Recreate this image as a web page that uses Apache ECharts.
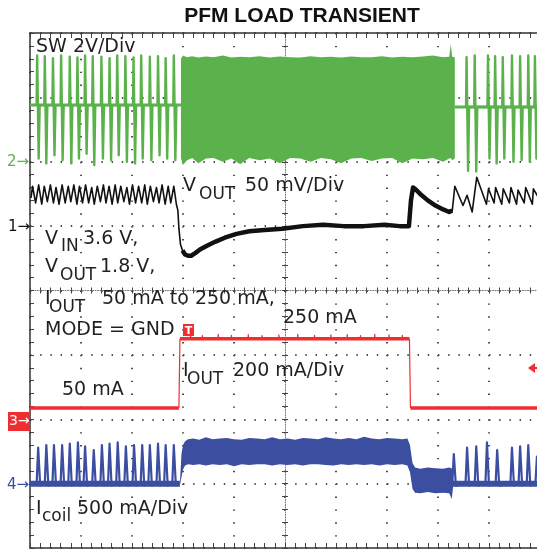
<!DOCTYPE html>
<html>
<head>
<meta charset="utf-8">
<script src="https://cdn.jsdelivr.net/npm/echarts@6/dist/echarts.min.js"></script>
<style>
  html, body { margin: 0; padding: 0; background: #fff; }
  #chart { width: 537px; height: 550px; }
</style>
</head>
<body>
<div id="chart"></div>
<script>
// scope screen: time in divisions (-5..5), each channel in its own unit
// channel reference level (div) and scale (unit per div)
const swRef = 2, swScale = 2;          // SW, V/div
const voutRef = 1, voutScale = 50;     // VOUT ripple, mV/div
const ioutRef = -2, ioutScale = 200;   // IOUT, mA/div
const icoilRef = -3, icoilScale = 500; // Icoil, mA/div

// ---- SW (V) ----
const swBaseLeft = 1.76;
const swBaseRight = 1.70;
const swPulseLeftT = [-4.86, -4.71, -4.55, -4.39, -4.22, -4.07, -3.92, -3.77, -3.60, -3.44, -3.29, -3.13, -2.97, -2.82, -2.65, -2.49, -2.34, -2.18];
const swPulseLeftHi = [3.30, 3.28, 3.22, 3.30, 3.26, 3.24, 3.30, 3.28, 3.26, 3.22, 3.30, 3.28, 3.24, 3.30, 3.26, 3.28, 3.22, 3.30];
const swPulseLeftLo = [0.10, -0.05, 0.20, 0.05, -0.05, 0.10, 0.25, -0.10, 0.10, 0.05, 0.20, 0.00, -0.05, 0.10, 0.05, 0.20, 0.10, 0.05];
const swBlockT = [-2.04, -2.00, -1.92, -1.82, -1.70, -1.55, -1.40, -1.22, -1.05, -0.88, -0.70, -0.50, -0.30, -0.10, 0.10, 0.30, 0.50, 0.70, 0.90, 1.10, 1.30, 1.50, 1.70, 1.90, 2.10, 2.30, 2.50, 2.70, 2.90, 3.10, 3.22, 3.25, 3.28, 3.33];
const swBlockHi = [3.20, 3.30, 3.25, 3.28, 3.24, 3.27, 3.25, 3.30, 3.24, 3.26, 3.25, 3.28, 3.24, 3.27, 3.25, 3.24, 3.28, 3.25, 3.26, 3.24, 3.27, 3.25, 3.25, 3.28, 3.24, 3.26, 3.25, 3.27, 3.30, 3.25, 3.26, 3.65, 3.26, 3.25];
const swBlockLo = [0.10, -0.10, 0.05, 0.12, -0.05, 0.10, 0.12, 0.00, 0.10, -0.08, 0.12, 0.05, 0.10, -0.05, 0.12, 0.10, 0.00, 0.12, 0.08, -0.05, 0.10, 0.12, 0.02, 0.10, 0.12, -0.05, 0.10, 0.08, 0.12, 0.00, 0.10, 0.12, 0.05, 0.10];
const swPulseRightT = [3.56, 3.72, 3.98, 4.12, 4.27, 4.45, 4.61, 4.77, 4.90];
const swPulseRightHi = [3.25, 3.30, 3.30, 3.28, 3.25, 3.30, 3.28, 3.30, 3.28];
const swPulseRightLo = [-0.28, -0.30, 0.10, -0.05, 0.10, 0.00, 0.05, 0.00, 0.10];

// ---- VOUT (mV) ----
const voutT = [
  -4.98, -4.95, -4.89, -4.83, -4.77, -4.72, -4.66, -4.60, -4.54, -4.49, -4.43, -4.37, -4.31, -4.25, -4.20, -4.14, -4.08,
  -4.03, -3.97, -3.91, -3.85, -3.79, -3.74, -3.68, -3.62, -3.56, -3.51, -3.45, -3.39, -3.33, -3.28, -3.22, -3.16,
  -3.10, -3.05, -2.99, -2.93, -2.87, -2.81, -2.75, -2.70, -2.64, -2.58, -2.52, -2.47, -2.41, -2.35, -2.29, -2.24, -2.18, -2.13,
  -2.10, -2.08, -2.05, -2.01,
  -1.96, -1.90, -1.84, -1.76, -1.66, -1.52, -1.36, -1.18, -0.95, -0.70, -0.40, -0.05,
  0.35, 0.75, 1.15, 1.55, 1.95, 2.25, 2.43,
  2.47, 2.51, 2.55, 2.65, 2.80, 2.95, 3.10, 3.22, 3.28,
  3.33, 3.49, 3.57, 3.67, 3.76, 3.95, 3.99, 4.10, 4.13, 4.25, 4.28, 4.40, 4.43, 4.54, 4.57, 4.69, 4.72, 4.85, 4.87, 5.00
];
const voutV = [
  22, 31, 18, 32, 17, 31, 19, 32, 18, 30, 17, 32, 18, 31, 19, 32, 17,
  31, 18, 32, 18, 30, 17, 31, 19, 32, 18, 31, 17, 32, 18, 31, 19,
  30, 17, 32, 18, 31, 18, 32, 17, 31, 19, 30, 18, 32, 17, 31, 18, 31, 17,
  12, -2, -14, -19,
  -22, -23, -23, -21, -18, -15, -12, -9, -6, -4, -3, -2,
  0, 1, 0, 0, 1, 0, 0,
  20, 30, 29, 25, 20, 16, 13, 11, 12,
  31, 16, 24, 11, 38, 17, 29, 18, 30, 17, 29, 18, 30, 17, 28, 18, 30, 17, 29, 20
];

// ---- IOUT (mA) ----
const ioutT = [-5, -2.08, -2.06, 2.44, 2.46, 5];
const ioutV = [35, 35, 250, 250, 35, 35];
const ioutHighSpikeT = [-1.85, -1.62, -1.31, -1.05, -0.72, -0.45, -0.12, 0.25, 0.58, 0.90, 1.22, 1.48, 1.76, 2.04, 2.30];
const ioutHighSpikeV = [262, 260, 264, 261, 263, 260, 262, 264, 261, 262, 263, 260, 264, 262, 261];

// ---- Icoil (mA) ----
const icoilSpikeLeftT = [-4.84, -4.68, -4.53, -4.37, -4.22, -4.06, -3.92, -3.75, -3.59, -3.44, -3.28, -3.12, -2.96, -2.80, -2.65, -2.49, -2.34, -2.18];
const icoilSpikeLeftPk = [280, 300, 300, 300, 310, 320, 290, 260, 300, 310, 320, 290, 300, 300, 300, 310, 300, 300];
const icoilSpikeRightT = [3.31, 3.57, 3.75, 3.96, 4.16, 4.45, 4.61, 4.77, 4.94];
const icoilSpikeRightPk = [230, 280, 290, 320, 260, 280, 290, 300, 210];
const icoilBandT = [-2.06, -2.03, -2.00, -1.96, -1.90, -1.80, -1.68, -1.55, -1.42, -1.28, -1.14, -1.00, -0.85, -0.70, -0.55, -0.40, -0.25, -0.10, 0.05, 0.20, 0.35, 0.50, 0.65, 0.80, 0.95, 1.10, 1.25, 1.40, 1.55, 1.70, 1.85, 2.00, 2.15, 2.30, 2.40, 2.45, 2.50, 2.55, 2.65, 2.80, 2.95, 3.10, 3.22, 3.27, 3.30];
const icoilBandHi = [10, 230, 300, 330, 345, 350, 340, 360, 345, 350, 355, 345, 340, 355, 350, 345, 360, 345, 350, 340, 355, 350, 345, 360, 350, 345, 355, 345, 365, 350, 345, 355, 350, 345, 350, 300, 160, 125, 115, 125, 120, 115, 125, 120, 20];
const icoilBandLo = [-10, 50, 110, 140, 150, 145, 150, 140, 150, 145, 150, 135, 150, 145, 150, 150, 140, 150, 145, 150, 140, 150, 150, 145, 140, 150, 145, 150, 145, 150, 140, 150, 145, 150, 140, 90, -40, -70, -75, -65, -75, -70, -75, -120, -10];

// unit -> screen divisions
const sw = v => swRef + v / swScale;
const vo = v => voutRef + v / voutScale;
const io = v => ioutRef + v / ioutScale;
const ic = v => icoilRef + v / icoilScale;

const GREEN = '#5bb14b', BLACK = '#111111', RED = '#ee2e30', BLUE = '#3b4ea0', TXT = '#231f20';

function pulses(times, hi, lo, base, conv) {
  const pts = [];
  times.forEach((t, i) => {
    pts.push([t - 0.01, conv(base)], [t, conv(hi[i])], [t + 0.03, conv(lo[i])], [t + 0.05, conv(base)]);
  });
  return pts;
}
function spikes(times, pk, conv) {
  const pts = [];
  times.forEach((t, i) => {
    pts.push([t - 0.03, conv(0)], [t, conv(pk[i])], [t + 0.04, conv(-15)], [t + 0.06, conv(0)]);
  });
  return pts;
}
function ticksOn(level, times, vals, conv) {
  const pts = [];
  times.forEach((t, i) => {
    pts.push([t - 0.005, conv(level)], [t, conv(vals[i])], [t + 0.005, conv(level)]);
  });
  return pts;
}
function line(data, color, width, z) {
  return { type: 'line', xAxisIndex: 0, yAxisIndex: 0, data, symbol: 'none', silent: true,
    lineStyle: { color, width, join: 'round' }, z: z || 3 };
}
function band(t, hi, lo, conv, color, z) {
  return { type: 'custom', xAxisIndex: 0, yAxisIndex: 0, silent: true, z: z || 3,
    data: [[t[0], conv(hi[0])]],
    renderItem(params, api) {
      const top = t.map((v, i) => api.coord([v, conv(hi[i])]));
      const bot = t.map((v, i) => api.coord([v, conv(lo[i])])).reverse();
      return { type: 'polygon', shape: { points: top.concat(bot) }, style: { fill: color } };
    } };
}

const zip = (t, v, conv) => t.map((x, i) => [x, conv(v[i])]);
const voutAll = zip(voutT, voutV, vo);
const voutThick = voutAll.filter(p => p[0] >= -2.02 && p[0] <= 3.28);

const series = [
  // SW
  line([[-5, sw(swBaseLeft)], [-2.04, sw(swBaseLeft)]], GREEN, 3),
  line(pulses(swPulseLeftT, swPulseLeftHi, swPulseLeftLo, swBaseLeft, sw), GREEN, 2.4),
  band(swBlockT, swBlockHi, swBlockLo, sw, GREEN),
  line([[3.33, sw(swBaseRight)], [5, sw(swBaseRight)]], GREEN, 3),
  line(pulses(swPulseRightT, swPulseRightHi, swPulseRightLo, swBaseRight, sw), GREEN, 2.4),
  // VOUT
  line(voutAll, BLACK, 1.6, 4),
  line(voutThick, BLACK, 4.5, 4),
  // IOUT
  line(zip(ioutT.slice(0, 2), ioutV.slice(0, 2), io), RED, 3.5),
  line(zip(ioutT.slice(1, 3), ioutV.slice(1, 3), io), RED, 1.2),
  line(zip(ioutT.slice(2, 4), ioutV.slice(2, 4), io), RED, 3.5),
  line(ticksOn(ioutV[2], ioutHighSpikeT, ioutHighSpikeV, io), RED, 1.2),
  line(zip(ioutT.slice(3, 5), ioutV.slice(3, 5), io), RED, 1.2),
  line(zip(ioutT.slice(4, 6), ioutV.slice(4, 6), io), RED, 3.5),
  // Icoil
  line([[-5, ic(0)], [-2.06, ic(0)]], BLUE, 6),
  line(spikes(icoilSpikeLeftT, icoilSpikeLeftPk, ic), BLUE, 2.2),
  band(icoilBandT, icoilBandHi, icoilBandLo, ic, BLUE),
  line([[3.29, ic(0)], [5, ic(0)]], BLUE, 6),
  line(spikes(icoilSpikeRightT, icoilSpikeRightPk, ic), BLUE, 2.2)
];

function ax(extra) {
  return Object.assign({ type: 'value', min: -5, max: 5, axisLabel: { show: false },
    splitLine: { show: false }, axisTick: { show: false } }, extra);
}
function ay(extra) {
  return Object.assign({ type: 'value', min: -4, max: 4, axisLabel: { show: false },
    splitLine: { show: false }, axisTick: { show: false } }, extra);
}
const BORDER = { color: '#333', width: 1.5 };
const DOT = '#4d4d4d';

const xAxis = [
  ax({ interval: 1, position: 'bottom', axisLine: { show: false, onZero: false },
       splitLine: { show: true, lineStyle: { color: DOT, width: 2, type: [1.4, 11.475] } } }),
  ax({ interval: 0.2, position: 'top', axisLine: { show: true, onZero: false, lineStyle: BORDER },
       axisTick: { show: true, inside: true, length: 5, lineStyle: { color: '#444' } } }),
  ax({ interval: 0.2, position: 'bottom', axisLine: { show: true, onZero: false, lineStyle: BORDER },
       axisTick: { show: true, inside: true, length: 5, lineStyle: { color: '#444' } } }),
  ax({ interval: 0.2, axisLine: { show: true, onZero: true, onZeroAxisIndex: 0, lineStyle: { color: '#777', width: 1, type: [1, 1.5] } },
       axisTick: { show: true, inside: false, length: 3, lineStyle: { color: '#444' } } }),
  ax({ interval: 0.2, axisLine: { show: false, onZero: true, onZeroAxisIndex: 0 },
       axisTick: { show: true, inside: true, length: 3, lineStyle: { color: '#444' } } })
];
const yAxis = [
  ay({ interval: 1, position: 'left', axisLine: { show: false, onZero: false },
       splitLine: { show: true, lineStyle: { color: DOT, width: 2, type: [1.4, 8.8] } } }),
  ay({ interval: 0.2, position: 'left', axisLine: { show: true, onZero: false, lineStyle: BORDER },
       axisTick: { show: true, inside: true, length: 4, lineStyle: { color: '#444' } } }),
  ay({ interval: 0.2, axisLine: { show: true, onZero: true, onZeroAxisIndex: 0, lineStyle: { color: '#777', width: 1, type: [1, 1.5] } },
       axisTick: { show: true, inside: false, length: 3, lineStyle: { color: '#444' } } }),
  ay({ interval: 0.2, axisLine: { show: false, onZero: true, onZeroAxisIndex: 0 },
       axisTick: { show: true, inside: true, length: 3, lineStyle: { color: '#444' } } })
];

// text helpers (x = left edge, b = baseline)
const FONT = '"DejaVu Sans"';
function txt(s, x, b, size, color, weight, align) {
  return { type: 'text', x, y: b - 0.3 * size, silent: true, z: 10,
    style: { text: s, font: (weight || 'normal') + ' ' + size + 'px ' + FONT, fill: color || TXT,
      align: align || 'left', verticalAlign: 'middle' } };
}
const M = 19, S = 17;
const graphic = [
  { type: 'text', x: 302, y: 23 - 0.31 * 21, silent: true,
    style: { text: 'PFM LOAD TRANSIENT', font: 'bold 21px "Liberation Sans"', fill: '#111', align: 'center', verticalAlign: 'middle' } },
  txt('SW 2V/Div', 36, 53, M),
  txt('V', 183, 192, M), txt('OUT', 199, 200, S), txt('50 mV/Div', 245, 192, M),
  txt('V', 45, 245, M), txt('IN', 61, 252, S), txt('3.6 V,', 83, 245, M),
  txt('V', 45, 273, M), txt('OUT', 60, 281, S), txt('1.8 V,', 100, 273, M),
  txt('I', 45, 305, M), txt('OUT', 49, 313, S), txt('50 mA to 250 mA,', 102, 305, M),
  txt('MODE = GND', 45, 336, M),
  txt('250 mA', 283, 324, M),
  txt('I', 183, 377, M), txt('OUT', 187, 385, S), txt('200 mA/Div', 233, 377, M),
  txt('50 mA', 62, 396, M),
  txt('I', 36, 515, M), txt('coil', 42, 522, S), txt('500 mA/Div', 77, 515, M),
  // channel markers
  txt('2\u2192', 7, 167, 15, GREEN),
  txt('1\u2192', 8, 232, 15, BLACK),
  { type: 'rect', shape: { x: 8, y: 412, width: 21, height: 19 }, style: { fill: RED }, silent: true, z: 9 },
  txt('3\u2192', 9, 426, 14, '#fff'),
  txt('4\u2192', 7, 490, 15, BLUE),
  // trigger markers
  { type: 'rect', shape: { x: 183, y: 324, width: 11, height: 12 }, style: { fill: RED }, silent: true, z: 9 },
  txt('T', 188.5, 334, 11, '#fff', 'bold', 'center'),
  { type: 'polygon', shape: { points: [[528, 368], [535, 363], [535, 373]] }, style: { fill: RED }, silent: true, z: 9 },
  { type: 'line', shape: { x1: 534, y1: 368, x2: 540, y2: 368 }, style: { stroke: RED, lineWidth: 2 }, silent: true, z: 9 }
];

const chart = echarts.init(document.getElementById('chart'));
chart.setOption({
  animation: false,
  backgroundColor: '#fff',
  grid: { left: 30, top: 33, width: 510, height: 515, containLabel: false, outerBoundsMode: 'none' },
  xAxis,
  yAxis,
  series,
  graphic
});
</script>
</body>
</html>
